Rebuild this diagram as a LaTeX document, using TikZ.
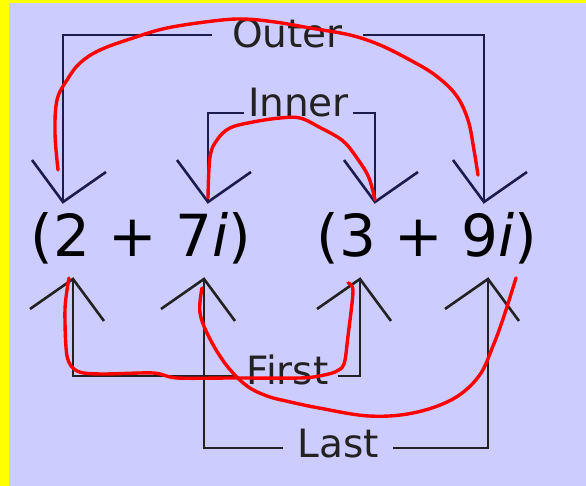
\documentclass[tikz,border=0pt]{standalone}
\usepackage{fontspec}
\setmainfont{DejaVu Sans}
\definecolor{bgcol}{HTML}{CCCCFF}
\definecolor{edgecol}{HTML}{FFFF00}
\definecolor{navyline}{HTML}{1C1C4C}
\definecolor{inkline}{HTML}{222222}
\tikzset{
  toparm/.style={draw=navyline, line width=1.3pt},
  botarm/.style={draw=inkline, line width=1.3pt},
  brlabel/.style={font=\fontsize{19.5}{22}\selectfont, text=inkline, inner ysep=0pt, anchor=base},
  exprtext/.style={font=\fontsize{29}{34}\selectfont, text=black, inner sep=0pt, anchor=base},
  scribble/.style={draw=red, line width=1.7pt, line cap=round, line join=round}
}
\begin{document}
\begin{tikzpicture}[x=0.5pt, y=-0.5pt]
  % frame
  \fill[edgecol] (0,0) rectangle (586,486);
  \fill[bgcol] (9.5,3.5) rectangle (586,486);
  \useasboundingbox (0,0) rectangle (586,486);

  % the two factors
  \node[exprtext] (lhs) at (141,257) {(2 + 7\textit{i})};
  \node[exprtext] (rhs) at (427,257) {(3 + 9\textit{i})};

  % arrow tips above and below the terms
  \coordinate (ta) at (63,202);
  \coordinate (tb) at (208,202);
  \coordinate (tc) at (375,202);
  \coordinate (td) at (484,202);
  \coordinate (ba) at (73,279);
  \coordinate (bb) at (204,279);
  \coordinate (bc) at (360,279);
  \coordinate (bd) at (488,279);

  % bracket labels
  \node[brlabel, inner xsep=10pt] (outer) at (287.5,48) {Outer};
  \node[brlabel, inner xsep=2pt] (inner) at (298.5,117) {Inner};
  \node[brlabel, inner xsep=4.5pt] (first) at (287.5,385) {First};
  \node[brlabel, inner xsep=7pt] (last) at (338,458) {Last};

  % brackets
  \draw[toparm] (ta) |- ([yshift=6.5pt]outer.base west);
  \draw[toparm] ([yshift=6.5pt]outer.base east) -| (td);
  \draw[toparm] (tb) |- ([yshift=2pt]inner.base west);
  \draw[toparm] ([yshift=2pt]inner.base east) -| (tc);
  \draw[botarm] (ba) |- ([yshift=4.5pt]first.base west);
  \draw[botarm] ([yshift=4.5pt]first.base east) -| (bc);
  \draw[botarm] (bb) |- ([yshift=5pt]last.base west);
  \draw[botarm] ([yshift=5pt]last.base east) -| (bd);

  % open heads
  \foreach \t in {ta,tb,tc,td}
    \draw[toparm] (\t) ++(-31,-42) -- (\t) -- ++(43,-30);
  \foreach \t in {ba,bb,bc,bd}
    \draw[botarm] (\t) ++(-43,30) -- (\t) -- ++(31,42);

  % red hand-drawn strokes
  \draw[scribble] plot[smooth, tension=0.6] coordinates {(58,170) (55,133) (57,100) (67,80) (80,63) (100,50) (133,38) (167,28) (213,21) (243,19) (275,22) (310,28) (350,35) (380,45) (410,60) (435,75) (456,95) (468,120) (474,150) (478,175)};
  \draw[scribble] plot[smooth, tension=0.6] coordinates {(208,198) (210,157) (217,140) (230,128) (253,122) (280,118) (300,118) (319,127) (343,141) (359,161) (369,178) (375,200)};
  \draw[scribble] plot[smooth, tension=0.5] coordinates {(69,278) (65,309) (67,356) (77,371) (100,374) (153,373) (177,378) (233,378) (300,378) (319,376) (335,372) (344,364) (348,336) (353,291) (348,283)};
  \draw[scribble] plot[smooth, tension=0.6] coordinates {(202,288) (200,313) (210,339) (227,366) (247,386) (267,396) (286,401) (319,408) (369,416) (413,413) (453,399) (479,376) (493,346) (504,316) (516,278)};
\end{tikzpicture}
\end{document}
